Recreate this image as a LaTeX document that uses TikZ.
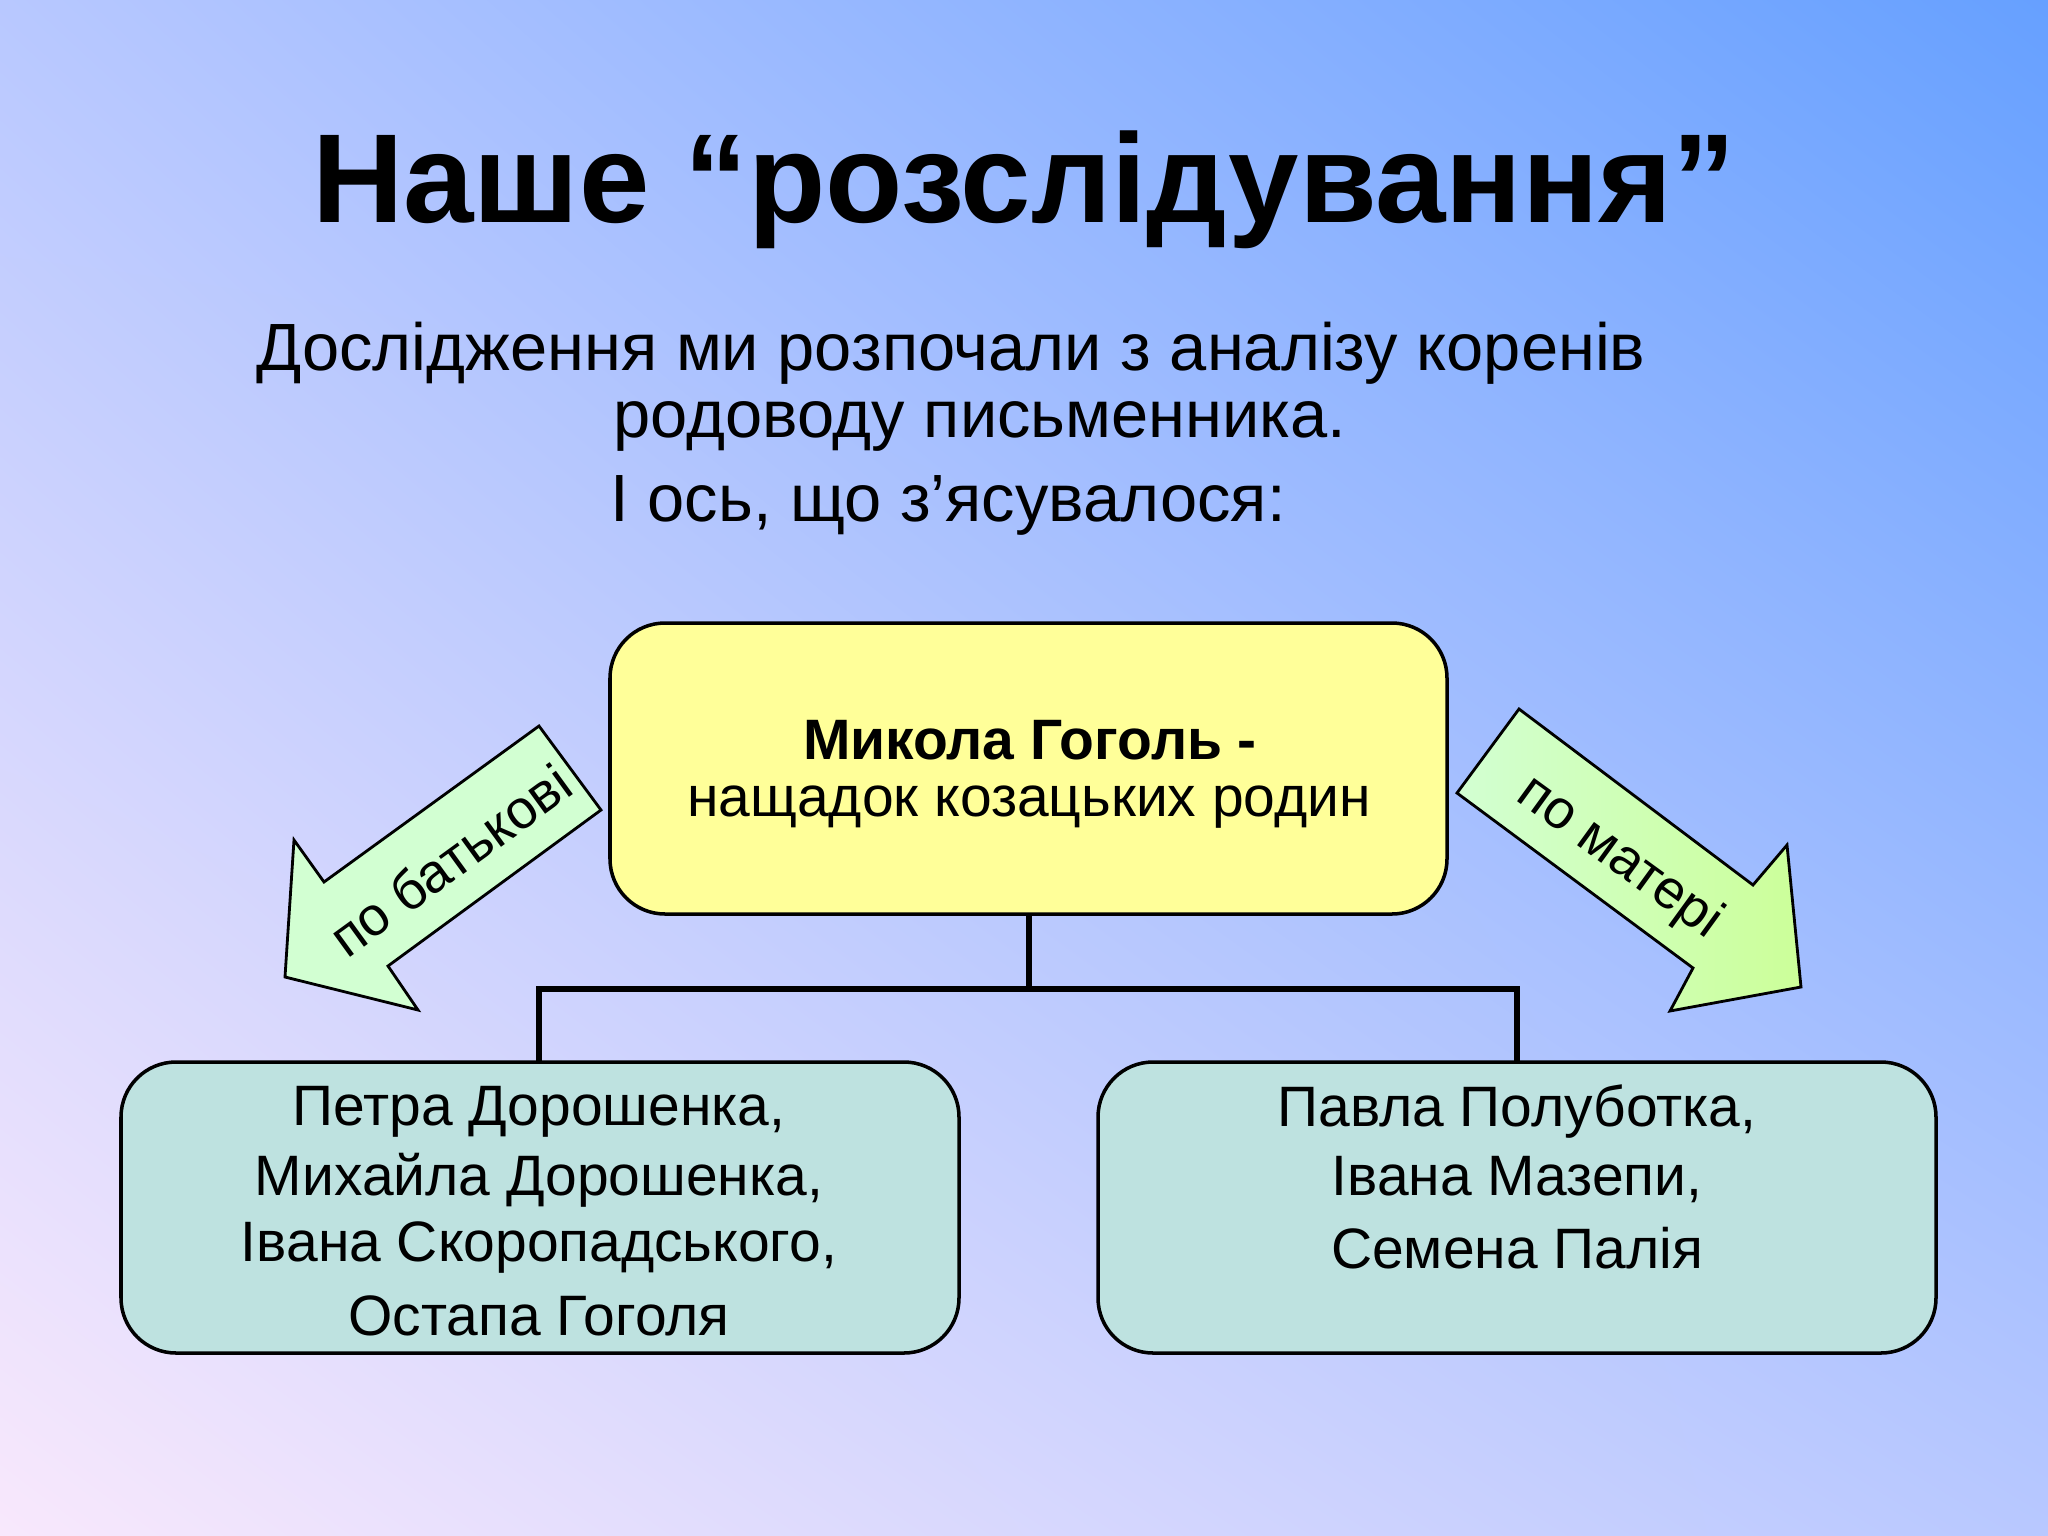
\documentclass[tikz,border=0pt]{standalone}
\usepackage{fontspec}
\setmainfont{Liberation Sans}
\usetikzlibrary{shadings}
\definecolor{bgA}{RGB}{184,200,255}
\definecolor{bgB}{RGB}{102,160,255}
\definecolor{bgC}{RGB}{248,232,252}
\definecolor{bgD}{RGB}{184,200,255}
\definecolor{ylw}{RGB}{255,255,153}
\definecolor{teal}{RGB}{190,226,224}
\definecolor{grA}{RGB}{210,255,210}
\definecolor{grB}{RGB}{204,255,153}
\begin{document}
\begin{tikzpicture}[x=0.01cm,y=-0.01cm,
  box/.style={draw=black,line width=1pt,rounded corners=0.55cm,inner sep=0pt},
  btxt/.style={font=\fontsize{16.2}{20}\selectfont,align=center},
  atxt/.style={font=\fontsize{15.5}{19}\selectfont},
  conn/.style={line width=1.6pt},
  arr/.style={draw=black,line width=0.8pt}]
\useasboundingbox (0,0) rectangle (2048,1536);
\shade[upper left=bgA,upper right=bgB,lower left=bgC,lower right=bgD]
  (0,0) rectangle (2048,1536);
\node (title) at (1024,190) {\fontsize{36}{42}\selectfont\bfseries Наше “розслідування”};
\node (s1) at (951,353) {\fontsize{19}{23}\selectfont Дослідження ми розпочали з аналізу коренів};
\node (s2) at (980,426) {\fontsize{19}{23}\selectfont родоводу письменника.};
\node[anchor=west,inner sep=0pt] (s3) at (610,505) {\fontsize{19}{23}\selectfont І ось, що з’ясувалося:};
\draw[box,fill=ylw] (610,623) rectangle (1447,914);
\node[btxt] (m1) at (1030,740) {\bfseries Микола Гоголь -};
\node[btxt] (m2) at (1029,807) {нащадок козацьких родин};
\coordinate (cb) at (1029,914);
\coordinate (cj) at (1029,989);
\coordinate (lj) at (539,989);
\coordinate (rj) at (1517,989);
\coordinate (lt) at (539,1062);
\coordinate (rt) at (1517,1062);
\draw[conn] (cb) -- (cj);
\draw[conn] (lt) -- (lj) -- (rj) -- (rt);
\draw[box,fill=teal] (121,1062) rectangle (959,1353);
\draw[box,fill=teal] (1098,1062) rectangle (1936,1353);
\node[btxt] (l1) at (539,1112) {Петра Дорошенка,};
\node[btxt] (l2) at (539,1180) {Михайла Дорошенка,};
\node[btxt] (l3) at (539,1248) {Івана Скоропадського,};
\node[btxt] (l4) at (539,1316) {Остапа Гоголя};
\node[btxt] (r1) at (1517,1112) {Павла Полуботка,};
\node[btxt] (r2) at (1517,1180) {Івана Мазепи,};
\node[btxt] (r3) at (1517,1248) {Семена Палія};
\draw[arr,fill=grA] (539,726) -- (601,810) -- (388,966) -- (418,1010) -- (285,977) -- (294,840) -- (324,882) -- cycle;
\shade[arr,left color=grA,right color=grB] (1519,709) -- (1457,793) -- (1693,968) -- (1670,1011) -- (1801,987) -- (1787,845) -- (1753,885) -- cycle;
\node[atxt,rotate=36] (pb) at (450,860) {по батькові};
\node[atxt,rotate=-36] (pm) at (1619,858) {по матері};
\end{tikzpicture}
\end{document}
